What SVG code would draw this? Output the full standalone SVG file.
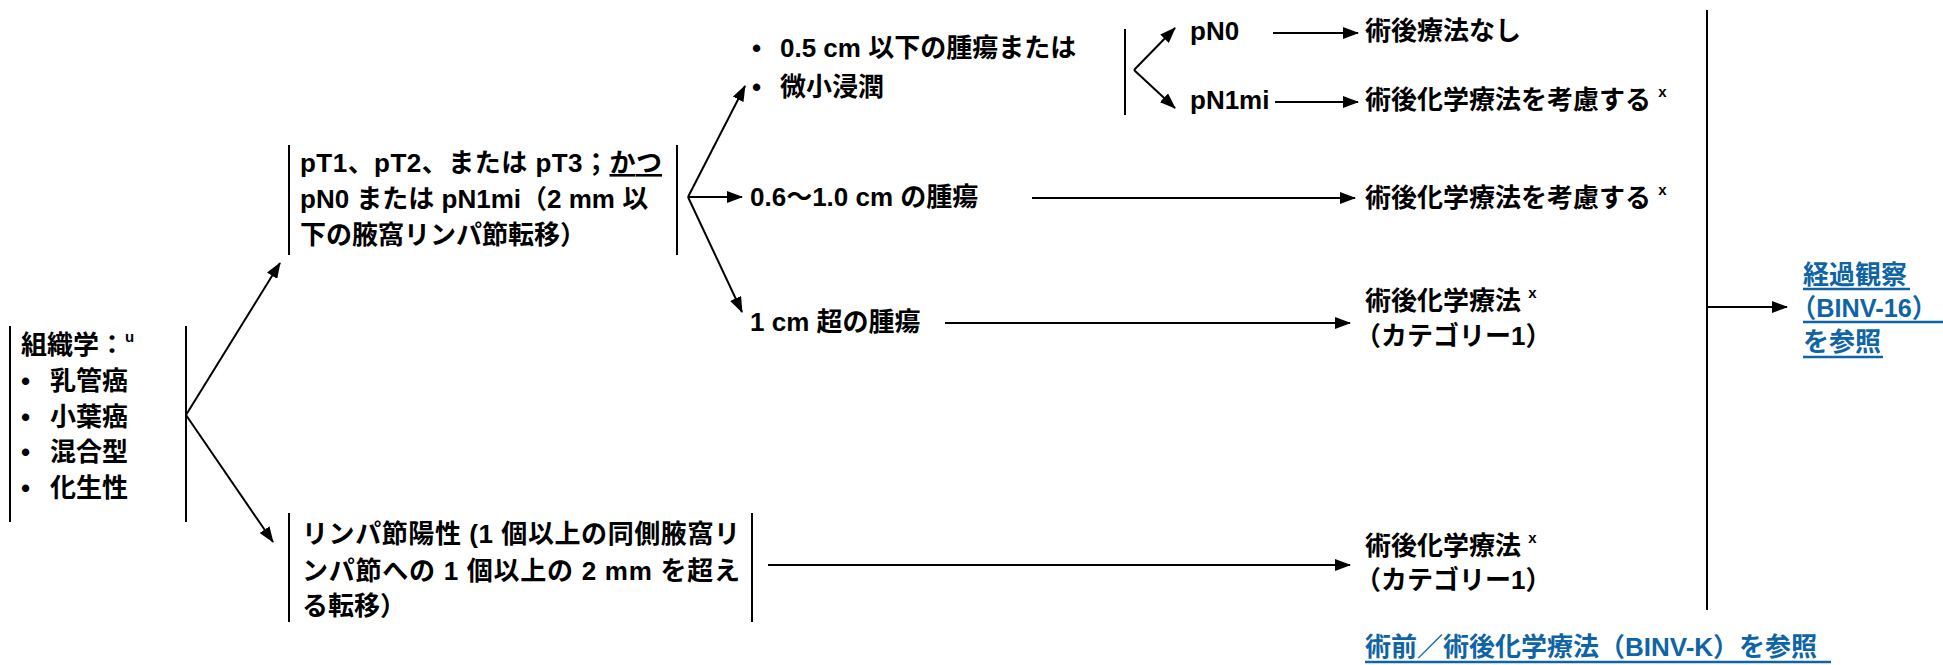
<svg xmlns="http://www.w3.org/2000/svg" width="1943" height="665" viewBox="0 0 1943 665">
<style>
  text { font-family: "Liberation Sans", "Noto Sans CJK JP", Arial, sans-serif; font-weight: bold; font-size: 26px; fill: #000; }
  .blue { fill: #0f64a5; }
  .sup { font-size: 15px; }
  .bar { stroke: #000; stroke-width: 2; fill: none; }
  .conn line { stroke: #000; stroke-width: 2; }
  .arr { marker-end: url(#ah); }
  .ul { stroke: #0f64a5; stroke-width: 2.5; }
</style>
<defs>
  <marker id="ah" markerUnits="userSpaceOnUse" markerWidth="16" markerHeight="12" refX="15" refY="6" orient="auto">
    <path d="M0,0 L16,6 L0,12 z" fill="#000"/>
  </marker>
</defs>
<rect width="1943" height="665" fill="#fff"/>

<g id="connectors" class="conn">
  <line class="arr" x1="186" y1="415" x2="280" y2="263"/>
  <line class="arr" x1="186" y1="415" x2="273" y2="542"/>
  <line class="arr" x1="688" y1="197" x2="745" y2="86"/>
  <line class="arr" x1="688" y1="197" x2="742" y2="197"/>
  <line class="arr" x1="688" y1="197" x2="742" y2="312"/>
  <line class="arr" x1="1134" y1="70" x2="1175" y2="28"/>
  <line class="arr" x1="1134" y1="70" x2="1175" y2="108"/>
  <line class="arr" x1="1273" y1="33" x2="1358" y2="33"/>
  <line class="arr" x1="1275" y1="102" x2="1358" y2="102"/>
  <line class="arr" x1="1032" y1="198" x2="1355" y2="198"/>
  <line class="arr" x1="945" y1="323" x2="1350" y2="323"/>
  <line class="arr" x1="768" y1="565" x2="1350" y2="565"/>
  <line x1="1707" y1="10" x2="1707" y2="610"/>
  <line class="arr" x1="1707" y1="307" x2="1787" y2="307"/>
</g>

<g id="n-histology">
  <line class="bar" x1="10" y1="326" x2="10" y2="522"/>
  <line class="bar" x1="186" y1="326" x2="186" y2="522"/>
  <text x="21" y="354">組織学：<tspan class="sup" dy="-12">u</tspan></text>
  <text y="390"><tspan x="21">•</tspan><tspan x="50">乳管癌</tspan></text>
  <text y="426"><tspan x="21">•</tspan><tspan x="50">小葉癌</tspan></text>
  <text y="461"><tspan x="21">•</tspan><tspan x="50">混合型</tspan></text>
  <text y="497"><tspan x="21">•</tspan><tspan x="50">化生性</tspan></text>
</g>

<g id="n-pt">
  <line class="bar" x1="289" y1="145" x2="289" y2="255"/>
  <line class="bar" x1="677" y1="145" x2="677" y2="255"/>
  <text x="300" y="172" textLength="362" lengthAdjust="spacing">pT1、pT2、または pT3；<tspan text-decoration="underline">かつ</tspan></text>
  <text x="300" y="208">pN0 または pN1mi（2 mm 以</text>
  <text x="300" y="244">下の腋窩リンパ節転移）</text>
</g>

<g id="n-ln">
  <line class="bar" x1="289" y1="513" x2="289" y2="622"/>
  <line class="bar" x1="752" y1="513" x2="752" y2="622"/>
  <text x="302" y="543" textLength="438" lengthAdjust="spacing">リンパ節陽性 (1 個以上の同側腋窩リ</text>
  <text x="302" y="580" textLength="438" lengthAdjust="spacing">ンパ節への 1 個以上の 2 mm を超え</text>
  <text x="302" y="615">る転移）</text>
</g>

<g id="n-small">
  <text y="57"><tspan x="752">•</tspan><tspan x="780">0.5 cm 以下の腫瘍または</tspan></text>
  <text y="96"><tspan x="752">•</tspan><tspan x="780">微小浸潤</tspan></text>
  <line class="bar" x1="1125" y1="29" x2="1125" y2="115"/>
</g>

<g id="n-pn0"><text x="1190" y="40">pN0</text></g>
<g id="n-pn1mi"><text x="1190" y="109">pN1mi</text></g>
<g id="n-none"><text x="1365" y="40">術後療法なし</text></g>
<g id="n-consider1"><text x="1365" y="109">術後化学療法を考慮する <tspan class="sup" dy="-12">x</tspan></text></g>

<g id="n-mid"><text x="750" y="206">0.6〜1.0 cm の腫瘍</text></g>
<g id="n-consider2"><text x="1365" y="207">術後化学療法を考慮する <tspan class="sup" dy="-12">x</tspan></text></g>

<g id="n-large"><text x="750" y="331">1 cm 超の腫瘍</text></g>
<g id="n-chemo1">
  <text x="1365" y="310">術後化学療法 <tspan class="sup" dy="-12">x</tspan></text>
  <text x="1355" y="345">（カテゴリー1）</text>
</g>

<g id="n-chemo2">
  <text x="1365" y="555">術後化学療法 <tspan class="sup" dy="-12">x</tspan></text>
  <text x="1355" y="589">（カテゴリー1）</text>
</g>

<g id="n-followup">
  <text class="blue" x="1803" y="284">経過観察</text>
  <text class="blue" x="1791" y="317" textLength="146" lengthAdjust="spacingAndGlyphs">（BINV-16）</text>
  <text class="blue" x="1803" y="351">を参照</text>
  <line class="ul" x1="1803" y1="289" x2="1910" y2="289"/>
  <line class="ul" x1="1803" y1="322" x2="1943" y2="322"/>
  <line class="ul" x1="1803" y1="357" x2="1883" y2="357"/>
</g>

<g id="n-binvk">
  <text class="blue" x="1365" y="656">術前／術後化学療法（BINV-K）を参照</text>
  <line class="ul" x1="1365" y1="662" x2="1831" y2="662"/>
</g>
</svg>
